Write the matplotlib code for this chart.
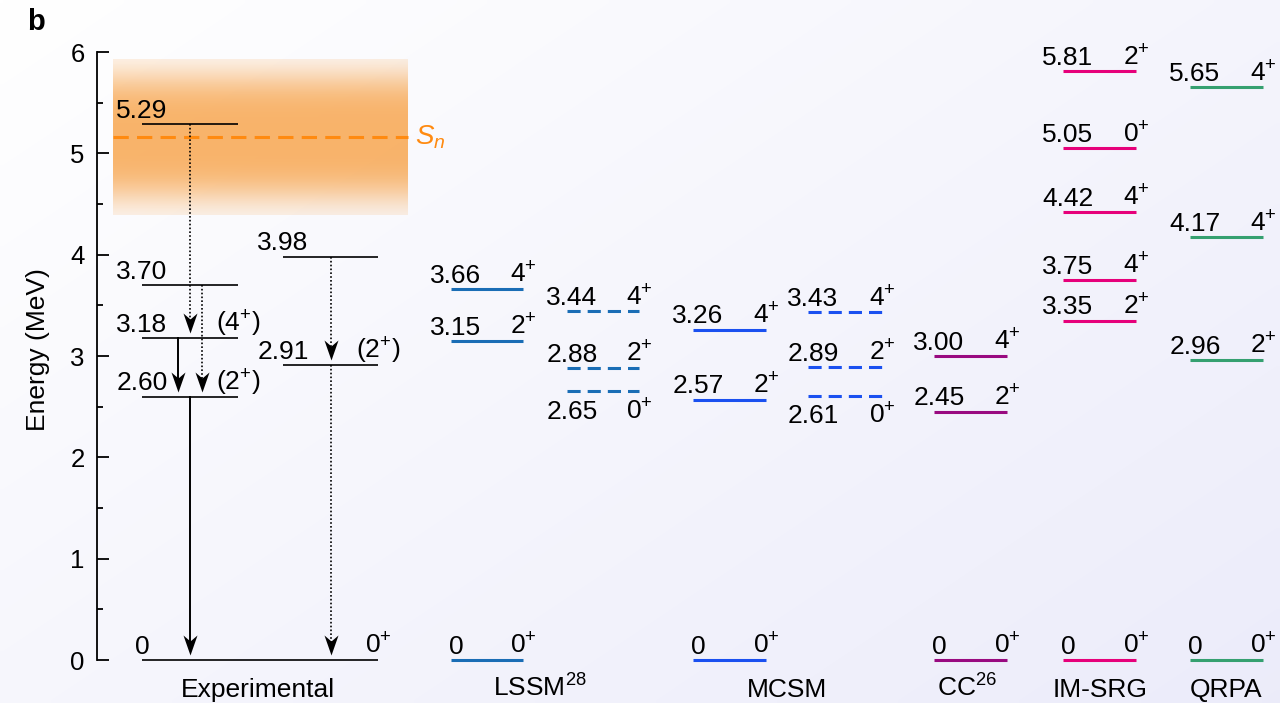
# Level scheme: experiment vs. theory
import numpy as np
import matplotlib.pyplot as plt
from matplotlib.path import Path
from matplotlib.ticker import MultipleLocator

plt.rcParams['font.family'] = ['Liberation Sans', 'DejaVu Sans']
plt.rcParams['mathtext.fontset'] = 'custom'
plt.rcParams['mathtext.rm'] = 'Liberation Sans'
plt.rcParams['mathtext.it'] = 'Liberation Sans:italic'

# ---- data (MeV) ----
exp_left_E = [5.29, 3.70, 3.18, 2.60]
exp_left_J = ['', '', '(4$^{+}$)', '(2$^{+}$)']
exp_right_E = [3.98, 2.91]
exp_right_J = ['', '(2$^{+}$)']
exp_gs_E = 0.0
exp_gs_J = '0$^{+}$'

# transitions: (start level, end level, dotted?)
trans_from = [5.29, 3.70, 3.18, 2.60, 3.98, 2.91]
trans_to = [3.18, 2.60, 2.60, 0.0, 2.91, 0.0]
trans_dotted = [True, True, False, False, True, True]

s_n = 5.16
s_n_band = (4.39, 5.92)

lssm_E = [0.0, 3.15, 3.66]
lssm_J = ['0', '2', '4']
lssm_d_E = [2.65, 2.88, 3.44]
lssm_d_J = ['0', '2', '4']
mcsm_E = [0.0, 2.57, 3.26]
mcsm_J = ['0', '2', '4']
mcsm_d_E = [2.61, 2.89, 3.43]
mcsm_d_J = ['0', '2', '4']
cc_E = [0.0, 2.45, 3.00]
cc_J = ['0', '2', '4']
imsrg_E = [0.0, 3.35, 3.75, 4.42, 5.05, 5.81]
imsrg_J = ['0', '2', '4', '4', '0', '2']
qrpa_E = [0.0, 2.96, 4.17, 5.65]
qrpa_J = ['0', '2', '4', '4']

categories = ['Experimental', 'LSSM$^{28}$', 'MCSM', 'CC$^{26}$', 'IM-SRG', 'QRPA']

# ---- layout (x in pixel-like units) ----
PX_PER_MEV = 608 / 6
exp_left_x = (142, 238)
exp_right_x = (283, 378)
exp_gs_x = (142, 378)
trans_x = [190, 202, 178, 190, 331, 331]
cat_x = [258, 540, 787, 967, 1100, 1226]

fig = plt.figure(figsize=(12.8, 7.03), dpi=100)

# faint background gradient
bg = fig.add_axes([0, 0, 1, 1], zorder=-2)
gx, gy = np.meshgrid(np.linspace(0, 1, 200), np.linspace(0, 1, 120))
t = np.clip(0.55 * gx + 0.45 * gy, 0, 1)[..., None]
white = np.array([1.0, 1.0, 1.0])
lav = np.array([0.925, 0.925, 0.98])
bg.imshow(white * (1 - t) + lav * t, aspect='auto', interpolation='bilinear')
bg.axis('off')

ax = fig.add_axes([97 / 1280, 43 / 703, (1280 - 97) / 1280, 608 / 703])
ax.patch.set_alpha(0)

# S_n band
yy = np.linspace(s_n_band[0], s_n_band[1], 300)
band = np.zeros((300, 1, 4))
band[..., 0] = 0.97
band[..., 1] = 0.56
band[..., 2] = 0.12
band[:, 0, 3] = 0.66 * (0.1 + 0.9 * np.exp(-(np.abs(yy - s_n) / 0.62) ** 4))
ax.imshow(band, extent=[113, 408, s_n_band[0], s_n_band[1]], origin='lower',
          aspect='auto', interpolation='bilinear', zorder=0)
ax.plot([113, 408], [s_n, s_n], color='#ff8a10', lw=2.2,
        ls=(0, (5, 2.7)), dash_capstyle='butt', zorder=1)
ax.text(415, s_n, '$S_n$', color='#ff8a10', fontsize=20, va='center', ha='left')

LABEL_FS = 19


def level(x0, x1, E, val, spin, color='black', lw=1.2, ls='-', dx=0, below=False):
    ax.plot([x0, x1], [E, E], color=color, lw=lw, ls=ls, solid_capstyle='butt',
            dash_capstyle='butt', clip_on=False, zorder=3)
    dy = -20 if below else 4.5
    if val:
        ax.annotate(val, (x0 + dx, E), xytext=(0, dy), textcoords='offset points',
                    ha='center', va='baseline', fontsize=LABEL_FS)
    if spin:
        ax.annotate(spin, (x1, E), xytext=(0, dy), textcoords='offset points',
                    ha='center', va='baseline', fontsize=LABEL_FS)


def fmt(E):
    return '0' if E == 0 else '%.2f' % E


# experimental levels
for E, J in zip(exp_left_E, exp_left_J):
    level(exp_left_x[0], exp_left_x[1], E, fmt(E), J)
for E, J in zip(exp_right_E, exp_right_J):
    level(exp_right_x[0], exp_right_x[1], E, fmt(E), J)
level(exp_gs_x[0], exp_gs_x[1], exp_gs_E, fmt(exp_gs_E), exp_gs_J)

# transitions with notched arrowheads
head = Path([(0, -1), (-0.7, 1), (0, 0.4), (0.7, 1), (0, -1)],
            [Path.MOVETO, Path.LINETO, Path.LINETO, Path.LINETO, Path.CLOSEPOLY])
for x, e0, e1, dotted in zip(trans_x, trans_from, trans_to, trans_dotted):
    tip_c = e1 + 15 / PX_PER_MEV
    if dotted:
        ax.plot([x, x], [e0, tip_c], color='black', lw=1.2, ls=(0, (1, 1.3)), zorder=2)
    else:
        ax.plot([x, x], [e0, tip_c], color='black', lw=1.4, zorder=2)
    ax.plot([x], [tip_c], marker=head, markersize=14.4, color='black',
            markeredgewidth=0, zorder=4)

# theory columns
theory = [
    (lssm_E, lssm_J, (451, 523), '#1a6db5', '-'),
    (lssm_d_E, lssm_d_J, (567, 639), '#1a6db5', 'd'),
    (mcsm_E, mcsm_J, (693, 766), '#1a50f0', '-'),
    (mcsm_d_E, mcsm_d_J, (808, 882), '#1a50f0', 'd'),
    (cc_E, cc_J, (934, 1007), '#990a80', '-'),
    (imsrg_E, imsrg_J, (1063, 1136), '#e6007a', '-'),
    (qrpa_E, qrpa_J, (1190, 1263), '#35a070', '-'),
]
for Es, Js, (x0, x1), col, style in theory:
    ls = (0, (4.3, 2.3)) if style == 'd' else '-'
    for E, J in zip(Es, Js):
        below = style == 'd' and J == '0'
        level(x0, x1, E, fmt(E), J + '$^{+}$', color=col, lw=2.2, ls=ls,
              dx=5, below=below)

# column names
for x, name in zip(cat_x, categories):
    ax.text(x, -0.365, name, ha='center', va='baseline', fontsize=19)

# axes styling
ax.set_xlim(97, 1280)
ax.set_ylim(0, 6)
for s in ['top', 'right', 'bottom']:
    ax.spines[s].set_visible(False)
ax.spines['left'].set_linewidth(1.3)
ax.set_xticks([])
ax.set_yticks(range(7))
ax.yaxis.set_minor_locator(MultipleLocator(0.5))
ax.tick_params(axis='y', which='major', direction='in', length=8.6, width=1.3,
               pad=9, labelsize=18.5)
ax.tick_params(axis='y', which='minor', direction='in', length=4, width=1.3)

fig.text(38 / 1280, 1 - 350 / 703, 'Energy (MeV)', rotation=90, ha='center',
         va='center', fontsize=19)
fig.text(27 / 1280, 1 - 30 / 703, 'b', fontweight='bold', fontsize=21,
         ha='left', va='baseline')

fig.savefig('out.png', dpi=100)
